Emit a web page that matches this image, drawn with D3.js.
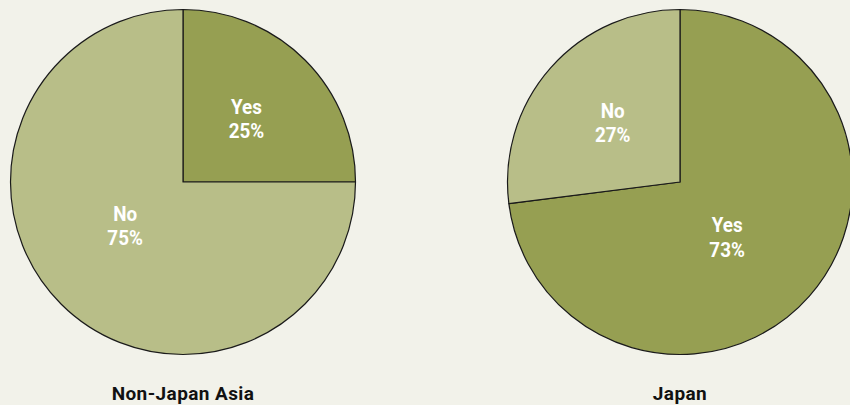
<!DOCTYPE html>
<html>
<head>
<meta charset="utf-8">
<script src="https://cdn.jsdelivr.net/npm/d3@7/dist/d3.min.js"></script>
<style>
  html, body { margin: 0; padding: 0; background: #f2f2ea; }
  svg { display: block; }
  text { font-family: "Roboto", "Liberation Sans", sans-serif; font-weight: bold; }
</style>
</head>
<body>
<svg id="chart" width="850" height="405"></svg>
<script>
// Share of respondents answering Yes / No, by region
const regions = ["Non-Japan Asia", "Japan"];
const answers = ["Yes", "No"];
const yesShare = [25, 73];
const noShare = [75, 27];

const colors = { Yes: "#969f52", No: "#b8be88" };

const radius = 172.5;
const centersX = d3.scaleOrdinal().domain(regions).range([183, 680]);
const centerY = 182;

const svg = d3.select("#chart");

const pie = d3.pie().sort(null).value(d => d.value);
const arc = d3.arc().innerRadius(0).outerRadius(radius);

// Label anchor: small slices sit a bit past half radius at mid-angle,
// the large slice is pulled in and nudged clockwise.
function labelPos(d) {
  const share = (d.endAngle - d.startAngle) / (2 * Math.PI);
  const big = share > 0.5;
  const a = (d.startAngle + d.endAngle) / 2 + (big ? 8 * Math.PI / 180 : 0);
  const r = radius * (big ? 0.42 : 0.52);
  return [Math.sin(a) * r, -Math.cos(a) * r];
}

regions.forEach((region, i) => {
  const slices = answers.map(a => ({ answer: a, value: a === "Yes" ? yesShare[i] : noShare[i] }));
  const g = svg.append("g")
    .attr("transform", `translate(${centersX(region)},${centerY})`);

  const arcs = pie(slices);

  g.selectAll("path")
    .data(arcs)
    .join("path")
    .attr("d", arc)
    .attr("fill", d => colors[d.data.answer])
    .attr("stroke", "#1a1a1a")
    .attr("stroke-width", 1.2)
    .attr("stroke-linejoin", "round");

  const labels = g.selectAll("text.slice")
    .data(arcs)
    .join("text")
    .attr("class", "slice")
    .attr("transform", d => {
      const [x, y] = labelPos(d);
      return `translate(${x},${y}) scale(0.92,1)`;
    })
    .attr("text-anchor", "middle")
    .attr("fill", "#ffffff")
    .style("font-size", "20.5px");

  labels.append("tspan").attr("x", 0).attr("y", -5).text(d => d.data.answer);
  labels.append("tspan").attr("x", 0).attr("y", 19.5).text(d => d.data.value + "%");

  svg.append("text")
    .attr("x", centersX(region))
    .attr("y", 400)
    .attr("text-anchor", "middle")
    .attr("fill", "#111111")
    .style("font-size", "19px")
    .style("letter-spacing", "0.4px")
    .text(region);
});
</script>
</body>
</html>
